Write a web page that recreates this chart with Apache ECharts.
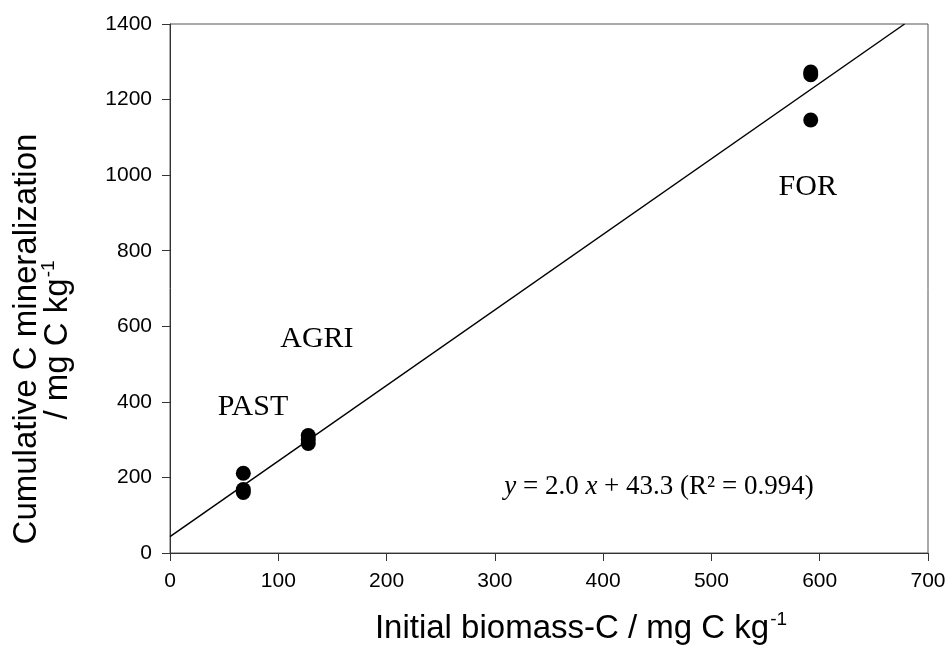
<!DOCTYPE html>
<html>
<head>
<meta charset="utf-8">
<script src="https://cdn.jsdelivr.net/npm/echarts@6/dist/echarts.min.js"></script>
<style>html,body{margin:0;padding:0;background:#fff;}#c{width:952px;height:657px;}</style>
</head>
<body>
<div id="c"></div>
<script>
// Data
const pastPoints = [[67.7, 211], [67.7, 168], [67.7, 160]];
const agriPoints = [[127.7, 311], [127.7, 300], [127.7, 290]];
const forPoints = [[591.7, 1273], [591.7, 1266], [591.7, 1146]];
const regSlope = 2.0;
const regIntercept = 43.3;
const xTicks = [0, 100, 200, 300, 400, 500, 600, 700];
const yTicks = [0, 200, 400, 600, 800, 1000, 1200, 1400];
const groupLabels = [
  { name: 'PAST', value: [76.6, 386] },
  { name: 'AGRI', value: [135.7, 566] },
  { name: 'FOR', value: [589, 969] }
];
const equationPos = [451.5, 175];

const yMax = 1400;
const regLine = [[0, regIntercept], [(yMax - regIntercept) / regSlope, yMax]];

const chart = echarts.init(document.getElementById('c'), null, { renderer: 'canvas' });
const axisColor = '#333';
const sans = 'Liberation Sans, Arial, sans-serif';
const serif = 'Liberation Serif, Times New Roman, serif';
const tickFont = { fontFamily: sans, fontSize: 21, color: '#000', formatter: v => String(v) };
const titleSize = 33;

chart.setOption({
  backgroundColor: '#fff',
  animation: false,
  grid: { left: 170, right: 24, top: 24, bottom: 104, show: true, borderColor: '#555', borderWidth: 1 },
  xAxis: {
    type: 'value', min: xTicks[0], max: xTicks[xTicks.length - 1], interval: 100,
    axisLine: { show: true, onZero: false, lineStyle: { color: axisColor, width: 1 } },
    axisTick: { show: true, inside: false, length: 8, lineStyle: { color: axisColor } },
    axisLabel: Object.assign({ margin: 18 }, tickFont),
    splitLine: { show: false }
  },
  yAxis: {
    type: 'value', min: yTicks[0], max: yTicks[yTicks.length - 1], interval: 200,
    axisLine: { show: true, onZero: false, lineStyle: { color: axisColor, width: 1 } },
    axisTick: { show: true, inside: false, length: 8, lineStyle: { color: axisColor } },
    axisLabel: Object.assign({ margin: 18 }, tickFont),
    splitLine: { show: false }
  },
  series: [
    {
      type: 'line', data: regLine, symbol: 'none', silent: true,
      lineStyle: { color: '#000', width: 1.5 }, z: 2
    },
    {
      type: 'scatter', data: pastPoints.concat(agriPoints, forPoints),
      symbol: 'circle', symbolSize: 15, itemStyle: { color: '#000', opacity: 1 }, z: 3
    },
    {
      type: 'scatter', data: groupLabels, symbolSize: 0, silent: true,
      itemStyle: { opacity: 1 },
      label: {
        show: true, position: 'inside', formatter: p => p.name,
        fontFamily: serif, fontSize: 30, color: '#000'
      }
    },
    {
      type: 'scatter', data: [{ value: equationPos }], symbolSize: 0, silent: true,
      itemStyle: { opacity: 1 },
      label: {
        show: true, position: 'inside',
        formatter: '{i|y} = 2.0 {i|x} + 43.3 (R² = 0.994)',
        fontFamily: serif, fontSize: 27, color: '#000',
        rich: { i: { fontStyle: 'italic', fontFamily: serif, fontSize: 27, color: '#000' } }
      }
    }
  ],
  graphic: [
    {
      type: 'text', x: 581, y: 629,
      style: {
        text: '{n|Initial biomass-C / mg C kg}{s|-1}',
        align: 'center', verticalAlign: 'middle',
        rich: {
          n: { fontFamily: sans, fontSize: titleSize, color: '#000', lineHeight: 38 },
          s: { fontFamily: sans, fontSize: 19, color: '#000', verticalAlign: 'top', lineHeight: 38, padding: [0, 0, 16, 1] }
        }
      }
    },
    {
      type: 'text', x: 27, y: 339, rotation: Math.PI / 2,
      style: {
        text: 'Cumulative C mineralization',
        align: 'center', verticalAlign: 'middle',
        font: titleSize + 'px "Liberation Sans", Arial, sans-serif', fill: '#000'
      }
    },
    {
      type: 'text', x: 58, y: 340, rotation: Math.PI / 2,
      style: {
        text: '{n|/ mg C kg}{s|-1}',
        align: 'center', verticalAlign: 'middle',
        rich: {
          n: { fontFamily: sans, fontSize: titleSize, color: '#000', lineHeight: 38 },
          s: { fontFamily: sans, fontSize: 19, color: '#000', verticalAlign: 'top', lineHeight: 38, padding: [0, 0, 16, 1] }
        }
      }
    }
  ]
});
</script>
</body>
</html>
